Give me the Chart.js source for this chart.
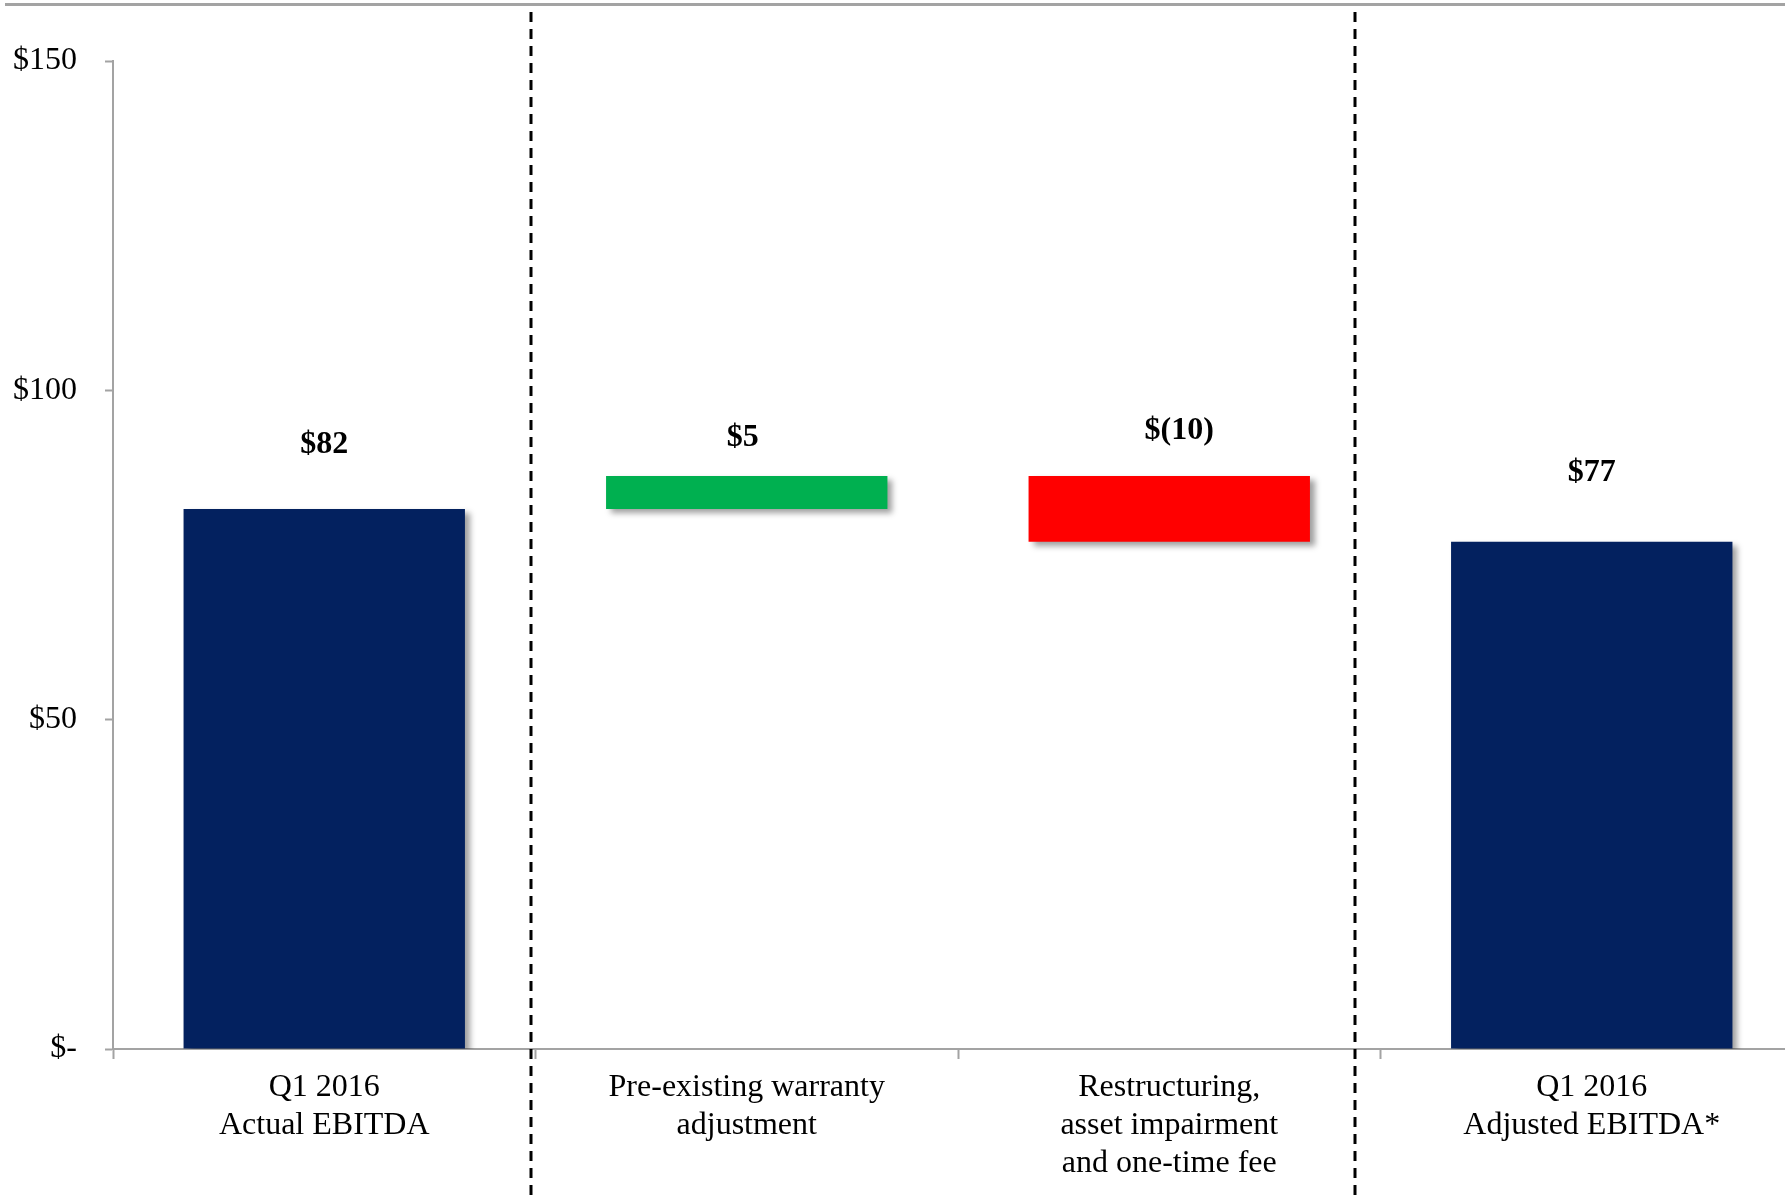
<!DOCTYPE html>
<html lang="en">
  <head>
    <meta charset="UTF-8" />
    <title>EBITDA bridge</title>
    <script src="https://cdn.jsdelivr.net/npm/chart.js"></script>
    <style>
      html, body { margin: 0; padding: 0; background: #fff; overflow: hidden; }
      #wrap { width: 1804px; height: 1200px; }
    </style>
  </head>
  <body>
    <div id="wrap">
      <canvas id="bridgeChart" width="1804" height="1200"></canvas>
    </div>

    <script>
      // chart data
      const categories = [
        ["Q1 2016", "Actual EBITDA"],
        ["Pre-existing warranty", "adjustment"],
        ["Restructuring,", "asset impairment", "and one-time fee"],
        ["Q1 2016", "Adjusted EBITDA*"]
      ];
      const barStarts = [0, 82, 77, 0];
      const barEnds = [82, 87, 87, 77];
      const valueLabels = ["$82", "$5", "$(10)", "$77"];
      const yTickValues = [0, 50, 100, 150];
      const yTickLabels = ["$-", "$50", "$100", "$150"];

      // look
      const NAVY = "#03215F";
      const barColors = [NAVY, "#00B050", "#FF0000", NAVY];
      const AXIS_GRAY = "#a3a3a3";
      const SERIF = "'Liberation Serif', 'Times New Roman', serif";
      // dashed separators, in category units
      const dividerAt = [0.49, 2.439];
      // nudges for the value labels (px): above bar top, and sideways
      const labelGap = [64, 38, 45, 69];
      const labelShift = [0, -4, 10, 0];

      // soft drop shadow under the bars
      const shadowPlugin = {
        id: "barShadow",
        beforeDatasetsDraw(chart) {
          const ctx = chart.ctx;
          ctx.save();
          ctx.shadowColor = "rgba(0,0,0,0.38)";
          ctx.shadowBlur = 6;
          ctx.shadowOffsetX = 5;
          ctx.shadowOffsetY = 4;
        },
        afterDatasetsDraw(chart) {
          chart.ctx.restore();
        }
      };

      // top rule, dashed dividers and value labels
      const decorPlugin = {
        id: "decor",
        afterDraw(chart) {
          const ctx = chart.ctx;
          const x = chart.scales.x;

          ctx.save();
          ctx.strokeStyle = AXIS_GRAY;
          ctx.lineWidth = 3;
          ctx.beginPath();
          ctx.moveTo(5, 4.5);
          ctx.lineTo(chart.width, 4.5);
          ctx.stroke();

          ctx.strokeStyle = "#000";
          ctx.lineWidth = 3;
          ctx.setLineDash([10, 7]);
          dividerAt.forEach(v => {
            const px = Math.round(x.getPixelForValue(v));
            ctx.beginPath();
            ctx.moveTo(px, 12);
            ctx.lineTo(px, chart.height);
            ctx.stroke();
          });
          ctx.setLineDash([]);

          const meta = chart.getDatasetMeta(0);
          ctx.fillStyle = "#000";
          ctx.font = "bold 32px " + SERIF;
          ctx.textAlign = "center";
          ctx.textBaseline = "middle";
          meta.data.forEach((bar, i) => {
            const top = Math.min(bar.y, bar.base);
            ctx.fillText(valueLabels[i], bar.x + labelShift[i], top - labelGap[i]);
          });
          ctx.restore();
        }
      };

      const ctx = document.getElementById("bridgeChart").getContext("2d");
      new Chart(ctx, {
        type: "bar",
        data: {
          labels: categories,
          datasets: [{
            data: barStarts.map((s, i) => [s, barEnds[i]]),
            backgroundColor: barColors,
            borderWidth: 0,
            borderSkipped: false,
            barPercentage: 0.666,
            categoryPercentage: 1
          }]
        },
        options: {
          responsive: false,
          animation: false,
          layout: { padding: { top: 61, right: 1, left: 0, bottom: 0 } },
          plugins: {
            legend: { display: false },
            tooltip: { enabled: false }
          },
          scales: {
            x: {
              offset: true,
              grid: {
                offset: true,
                drawOnChartArea: false,
                drawTicks: true,
                tickLength: 10,
                tickColor: AXIS_GRAY,
                tickWidth: 2
              },
              border: { display: true, color: AXIS_GRAY, width: 2 },
              ticks: {
                color: "#000",
                padding: 10,
                maxRotation: 0,
                autoSkip: false,
                font: { family: SERIF, size: 32, lineHeight: 1.18 }
              },
              afterFit(scale) { scale.height = 151; }
            },
            y: {
              min: 0,
              max: 150,
              afterBuildTicks(scale) {
                scale.ticks = yTickValues.map(v => ({ value: v }));
              },
              grid: {
                drawOnChartArea: false,
                drawTicks: true,
                tickLength: 8,
                tickColor: AXIS_GRAY,
                tickWidth: 2
              },
              border: { display: true, color: AXIS_GRAY, width: 2 },
              ticks: {
                color: "#000",
                padding: 28,
                font: { family: SERIF, size: 32 },
                callback(value) {
                  const i = yTickValues.indexOf(value);
                  return i >= 0 ? yTickLabels[i] : "";
                }
              },
              afterFit(scale) { scale.width = 113; }
            }
          }
        },
        plugins: [shadowPlugin, decorPlugin]
      });
    </script>
  </body>
</html>
